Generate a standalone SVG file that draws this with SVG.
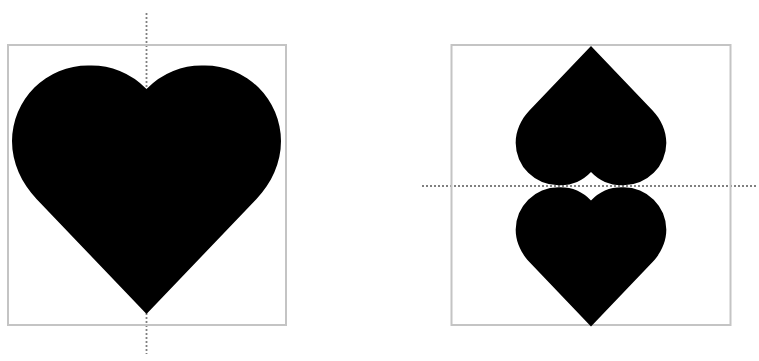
<svg xmlns="http://www.w3.org/2000/svg" width="759" height="361" viewBox="0 0 759 361">
<style>
.frame{fill:none;stroke:#c4c4c4;stroke-width:2}
.axis{fill:none;stroke:#808080;stroke-width:1.8;stroke-dasharray:2 2}
.heart{fill:#000}
</style>
<defs>
<filter id="soft" x="-5%" y="-5%" width="110%" height="110%"><feGaussianBlur stdDeviation="0.45"/></filter>
<path id="h" d="M0 24A76 76 0 0 0-58.500 .5A76 76 0 0 0-134.500 76C-134.500 98-125 118-110 134L0 249L110 134C125 118 134.500 98 134.500 76A76 76 0 0 0 58.500 .5A76 76 0 0 0 0 24Z"/>
</defs>
<rect width="759" height="361" fill="#fff"/>
<g filter="url(#soft)">
<g id="connectors">
<path class="axis" d="M146.500 13V354"/>
<path class="axis" d="M422 186H758"/>
</g>
<g id="original">
<rect class="frame" x="8" y="45" width="278" height="280"/>
<use class="heart" href="#h" transform="translate(146.500 65)"/>
</g>
<g id="reflected">
<rect class="frame" x="451.500" y="45" width="279" height="280"/>
<use class="heart" href="#h" transform="translate(591 185.500) scale(.56 -.56)"/>
<use class="heart" href="#h" transform="translate(591 187) scale(.56)"/>
</g>
</g>
</svg>
